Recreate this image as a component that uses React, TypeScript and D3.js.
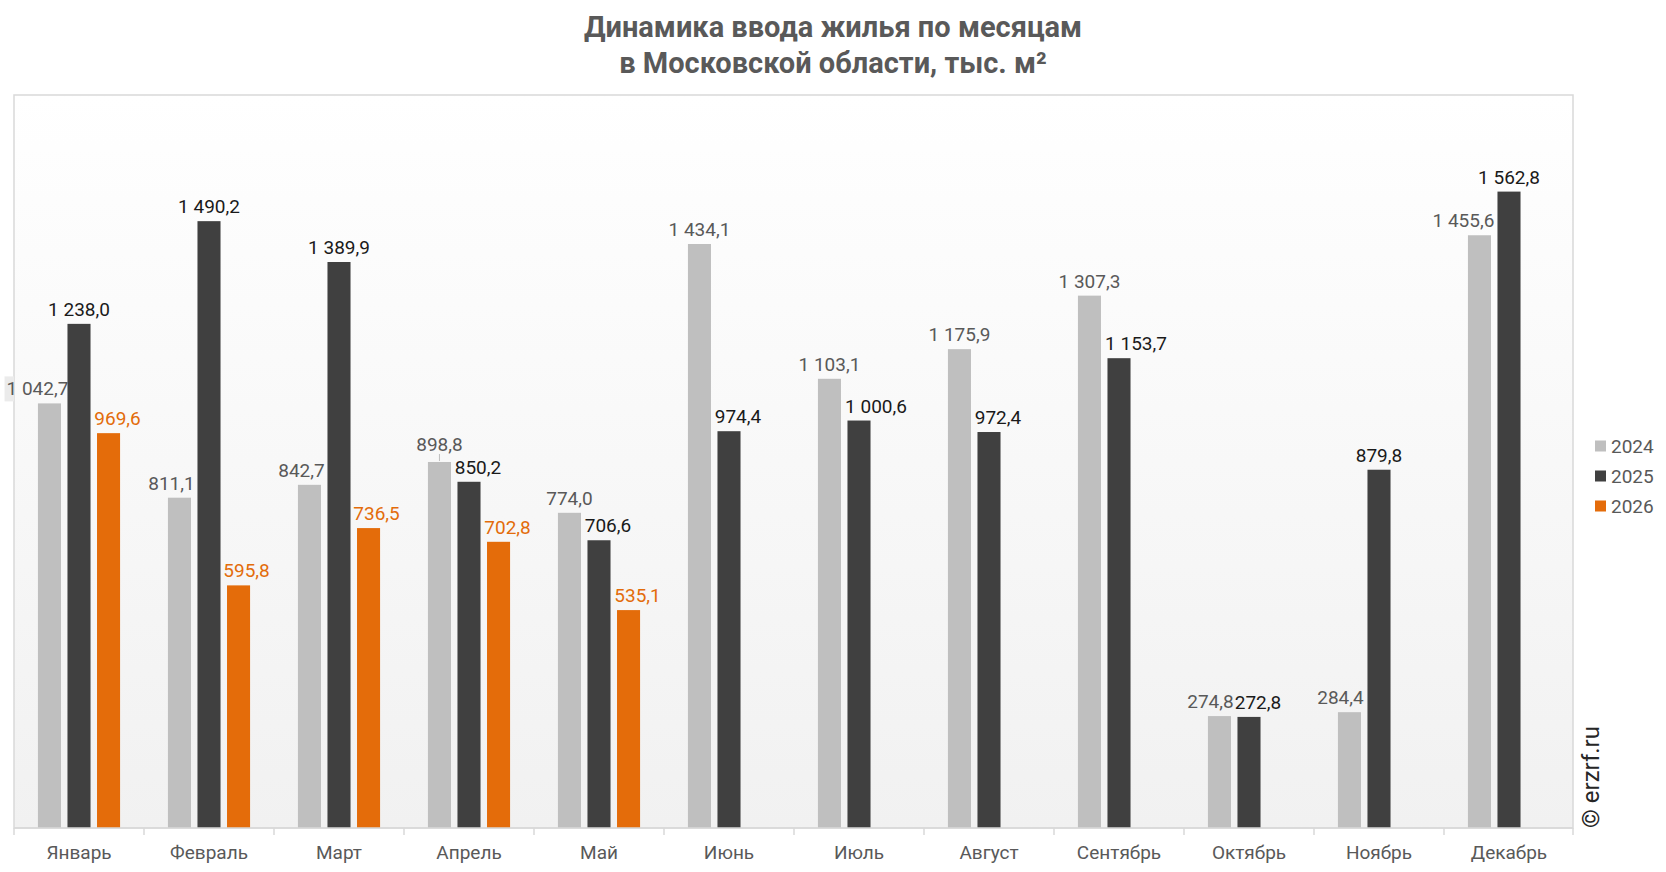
import { useEffect, useRef } from "react"
import * as d3 from "d3"

// Monthly housing completion, Moscow region, thousand m²
const months = ["Январь", "Февраль", "Март", "Апрель", "Май", "Июнь", "Июль", "Август", "Сентябрь", "Октябрь", "Ноябрь", "Декабрь"]
const years = ["2024", "2025", "2026"]
const values2024 = [1042.7, 811.1, 842.7, 898.8, 774.0, 1434.1, 1103.1, 1175.9, 1307.3, 274.8, 284.4, 1455.6]
const values2025 = [1238.0, 1490.2, 1389.9, 850.2, 706.6, 974.4, 1000.6, 972.4, 1153.7, 272.8, 879.8, 1562.8]
const values2026 = [969.6, 595.8, 736.5, 702.8, 535.1]
const titleLines = ["Динамика ввода жилья по месяцам", "в Московской области, тыс. м²"]

const barColors = ["#bfbfbf", "#404040", "#e46c0a"]
const labelColors = ["#595959", "#1a1a1a", "#e36c0a"]
// horizontal nudges of data labels (moved by hand in the original to avoid overlaps)
const labelNudge = [
  [-12, -8, -8, 0, 0, 0, 0, 0, 0, -9, -9, -16],
  [0, 0, 0, 9, 9, 9, 17, 9, 17, 9, 0, 0],
  [9, 8, 8, 9, 9],
]
// labels lifted off their bar with a leader line: [series, month, extra px]
const lifted = [[0, 3, 3]]

export default function App() {
  const svgRef = useRef<SVGSVGElement>(null)

  useEffect(() => {
    if (!svgRef.current) return
    const W = 1666
    const H = 872
    const plot = { left: 14, top: 95, right: 1573, bottom: 828 }
    const font = "Roboto, 'Noto Sans', sans-serif"

    const svg = d3.select(svgRef.current)
    svg.selectAll("*").remove()
    svg.attr("width", W).attr("height", H).style("font-family", font)

    const ru = d3.formatLocale({ decimal: ",", thousands: " ", grouping: [3], currency: ["", ""] })
    const fmt = ru.format(",.1f")

    // Background gradient of the plot area
    const grad = svg.append("defs").append("linearGradient")
      .attr("id", "plotBg").attr("x1", 0).attr("y1", 0).attr("x2", 0).attr("y2", 1)
    grad.append("stop").attr("offset", "0%").attr("stop-color", "#ffffff")
    grad.append("stop").attr("offset", "100%").attr("stop-color", "#f1f1f1")

    svg.append("rect")
      .attr("x", plot.left).attr("y", plot.top)
      .attr("width", plot.right - plot.left).attr("height", plot.bottom - plot.top)
      .attr("fill", "url(#plotBg)")
      .attr("stroke", "#d9d9d9").attr("stroke-width", 1.5)

    // Title
    svg.append("text")
      .attr("x", W / 2).attr("y", 37)
      .attr("text-anchor", "middle")
      .style("font-size", "29px").style("font-weight", "bold").style("fill", "#595959")
      .selectAll("tspan").data(titleLines).join("tspan")
      .attr("x", W / 2).attr("dy", (_, i) => (i === 0 ? 0 : 36))
      .text((d) => d)

    const x = d3.scaleBand().domain(months).range([plot.left, plot.right + 1]).padding(0)
    const xs = d3.scaleBand().domain(years).range([0, x.bandwidth()]).paddingInner(0.22).paddingOuter(0.81)
    const y = d3.scaleLinear().domain([0, 1800]).range([plot.bottom, plot.top])

    const series = [values2024, values2025, values2026]
    const bars = series.flatMap((vals, si) =>
      vals.map((v, mi) => {
        const lift = lifted.find((l) => l[0] === si && l[1] === mi)
        return { month: months[mi], mi, year: years[si], si, value: v, lift: lift ? lift[2] : 0 }
      })
    )
    const cx = (d: { month: string; year: string }) => (x(d.month) || 0) + (xs(d.year) || 0) + xs.bandwidth() / 2

    svg.append("g").selectAll("rect").data(bars).join("rect")
      .attr("x", (d) => (x(d.month) || 0) + (xs(d.year) || 0))
      .attr("y", (d) => y(d.value))
      .attr("width", xs.bandwidth())
      .attr("height", (d) => y(0) - y(d.value))
      .attr("fill", (d) => barColors[d.si])

    // Axis line and ticks between categories
    const axis = svg.append("g").attr("transform", `translate(0,${plot.bottom})`)
    axis.append("line").attr("x1", plot.left).attr("x2", plot.right).attr("stroke", "#d9d9d9").attr("stroke-width", 1.5)
    axis.selectAll("line.tick").data([...months.map((m) => x(m) || 0), plot.right]).join("line")
      .attr("class", "tick")
      .attr("x1", (d) => d).attr("x2", (d) => d).attr("y1", 0).attr("y2", 7)
      .attr("stroke", "#d9d9d9").attr("stroke-width", 1.5)
    axis.selectAll("text").data(months).join("text")
      .attr("x", (d) => (x(d) || 0) + x.bandwidth() / 2)
      .attr("y", 31)
      .attr("text-anchor", "middle")
      .style("font-size", "19px").style("fill", "#595959")
      .text((d) => d)

    // leader lines for lifted labels
    svg.append("g").selectAll("line").data(bars.filter((d) => d.lift > 0)).join("line")
      .attr("x1", cx).attr("x2", cx)
      .attr("y1", (d) => y(d.value) - 1).attr("y2", (d) => y(d.value) - 8)
      .attr("stroke", "#bfbfbf").attr("stroke-width", 1)

    // Data labels
    const labels = svg.append("g").selectAll("text").data(bars).join("text")
      .attr("x", (d) => cx(d) + labelNudge[d.si][d.mi])
      .attr("y", (d) => y(d.value) - 8 - d.lift)
      .attr("text-anchor", "middle")
      .style("font-size", "19px")
      .style("fill", (d) => labelColors[d.si])
      .text((d) => fmt(d.value))

    // label boxes sticking out of the plot area show a light fill
    labels.each(function () {
      const b = (this as SVGTextElement).getBBox()
      if (b.x < plot.left) {
        svg.insert("rect", "g")
          .attr("x", b.x - 2).attr("y", b.y - 1)
          .attr("width", plot.left - b.x + 2).attr("height", b.height + 2)
          .attr("fill", "#ebebeb")
      }
    })

    // Legend
    const legend = svg.append("g").attr("transform", "translate(1595,446)")
    const item = legend.selectAll("g").data(years).join("g")
      .attr("transform", (_, i) => `translate(0,${i * 30})`)
    item.append("rect").attr("x", 0).attr("y", -5.5).attr("width", 11).attr("height", 11)
      .attr("fill", (_, i) => barColors[i])
    item.append("text").attr("x", 16).attr("y", 7)
      .style("font-size", "19px").style("fill", "#595959")
      .text((d) => d)

    // Watermark
    svg.append("text")
      .attr("transform", "translate(1599,828) rotate(-90)")
      .style("font-size", "24px").style("fill", "#262626")
      .text("© erzrf.ru")
  }, [])

  return <svg ref={svgRef} style={{ position: "absolute", left: 0, top: 0, background: "#fff" }}></svg>
}
